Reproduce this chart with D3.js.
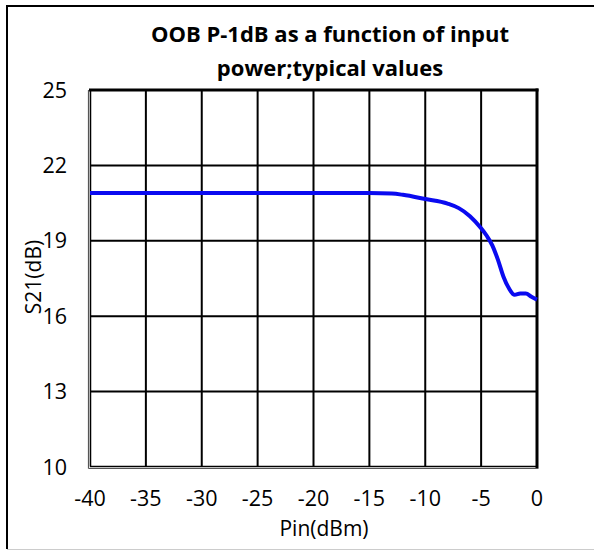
<!DOCTYPE html>
<html lang="en">
<head>
    <meta charset="utf-8">
    <title>OOB P-1dB</title>
    <script src="https://cdn.jsdelivr.net/npm/d3@7"></script>
    <style>
        body { margin: 0; background: #fff; }
        text { font-family: "Open Sans", sans-serif; fill: #000; }
    </style>
</head>
<body>
<script type="text/javascript">
    var pin = [-40, -35, -30, -25, -20, -15, -13, -12, -10, -8, -7, -6, -5, -4.5, -4, -3.5, -3, -2.5, -2, -1.5, -1, -0.5, 0];
    var s21 = [20.9, 20.9, 20.9, 20.9, 20.9, 20.9, 20.88, 20.83, 20.66, 20.48, 20.3, 19.98, 19.5, 19.2, 18.82, 18.25, 17.57, 17.1, 16.85, 16.9, 16.9, 16.77, 16.66];
    var xTicks = [-40, -35, -30, -25, -20, -15, -10, -5, 0];
    var yTicks = [10, 13, 16, 19, 22, 25];
    var titleLines = ["OOB P-1dB as a function of input", "power;typical values"];

    var width = 594, height = 551;
    var pLeft = 90, pRight = 537, pTop = 90, pBottom = 467;

    var svg = d3.select("body").append("svg")
        .attr("width", width)
        .attr("height", height);

    // outer frame
    svg.append("line").attr("x1", 7).attr("y1", 5).attr("x2", 7).attr("y2", 549)
        .attr("stroke", "#000").attr("stroke-width", 2);
    svg.append("line").attr("x1", 6).attr("y1", 6).attr("x2", width).attr("y2", 6)
        .attr("stroke", "#000").attr("stroke-width", 2);
    svg.append("line").attr("x1", 7).attr("y1", 549.5).attr("x2", width).attr("y2", 549.5)
        .attr("stroke", "#ccc").attr("stroke-width", 1);

    var x = d3.scaleLinear().domain([-40, 0]).range([pLeft, pRight]);
    var y = d3.scaleLinear().domain([10, 25]).range([pBottom, pTop]);

    // grid
    svg.append("g").selectAll("line")
        .data(xTicks.slice(1, -1))
        .enter().append("line")
        .attr("x1", function(d) { return x(d); })
        .attr("x2", function(d) { return x(d); })
        .attr("y1", pTop).attr("y2", pBottom)
        .attr("stroke", "#000").attr("stroke-width", 2);

    svg.append("g").selectAll("line")
        .data(yTicks.slice(1, -1))
        .enter().append("line")
        .attr("x1", pLeft).attr("x2", pRight)
        .attr("y1", function(d) { return y(d); })
        .attr("y2", function(d) { return y(d); })
        .attr("stroke", "#000").attr("stroke-width", 2);

    // plot border: thick top/right, double left/bottom
    svg.append("line").attr("x1", pLeft - 1).attr("y1", pTop).attr("x2", pRight + 1.5).attr("y2", pTop)
        .attr("stroke", "#000").attr("stroke-width", 3);
    svg.append("line").attr("x1", pRight).attr("y1", pTop - 1.5).attr("x2", pRight).attr("y2", pBottom + 1)
        .attr("stroke", "#000").attr("stroke-width", 3);
    svg.append("line").attr("x1", pLeft - 1.5).attr("y1", pTop).attr("x2", pLeft - 1.5).attr("y2", pBottom + 1.5)
        .attr("stroke", "#555").attr("stroke-width", 1.2);
    svg.append("line").attr("x1", pLeft + 0.5).attr("y1", pTop).attr("x2", pLeft + 0.5).attr("y2", pBottom - 0.5)
        .attr("stroke", "#000").attr("stroke-width", 1.5);
    svg.append("line").attr("x1", pLeft - 1.5).attr("y1", pBottom + 1.5).attr("x2", pRight + 1.5).attr("y2", pBottom + 1.5)
        .attr("stroke", "#555").attr("stroke-width", 1.2);
    svg.append("line").attr("x1", pLeft).attr("y1", pBottom - 0.5).attr("x2", pRight).attr("y2", pBottom - 0.5)
        .attr("stroke", "#000").attr("stroke-width", 1.5);

    // tick labels
    svg.append("g").selectAll("text")
        .data(xTicks)
        .enter().append("text")
        .text(function(d) { return d; })
        .attr("x", function(d) { return x(d); })
        .attr("y", 506)
        .attr("text-anchor", "middle")
        .attr("font-size", "21.5px");

    svg.append("g").selectAll("text")
        .data(yTicks)
        .enter().append("text")
        .text(function(d) { return d; })
        .attr("x", 67)
        .attr("y", function(d) { return y(d) + 7.5; })
        .attr("text-anchor", "end")
        .attr("font-size", "21.5px");

    // axis titles
    svg.append("text").text("Pin(dBm)")
        .attr("x", 324).attr("y", 536)
        .attr("text-anchor", "middle").attr("font-size", "21px");

    svg.append("text").text("S21(dB)")
        .attr("transform", "translate(41,277) rotate(-90)")
        .attr("text-anchor", "middle").attr("font-size", "21px");

    // title
    svg.append("g").selectAll("text")
        .data(titleLines)
        .enter().append("text")
        .text(function(d) { return d; })
        .attr("x", 330)
        .attr("y", function(d, i) { return 42 + i * 34; })
        .attr("text-anchor", "middle")
        .attr("font-size", "22px")
        .attr("font-weight", "bold");

    // curve
    var pts = pin.map(function(p, i) { return [p, s21[i]]; });
    var line = d3.line()
        .x(function(d) { return x(d[0]); })
        .y(function(d) { return y(d[1]); })
        .curve(d3.curveMonotoneX);

    svg.append("path")
        .datum(pts)
        .attr("d", line)
        .attr("fill", "none")
        .attr("stroke", "#0a0af0")
        .attr("stroke-width", 4);
</script>
</body>
</html>
